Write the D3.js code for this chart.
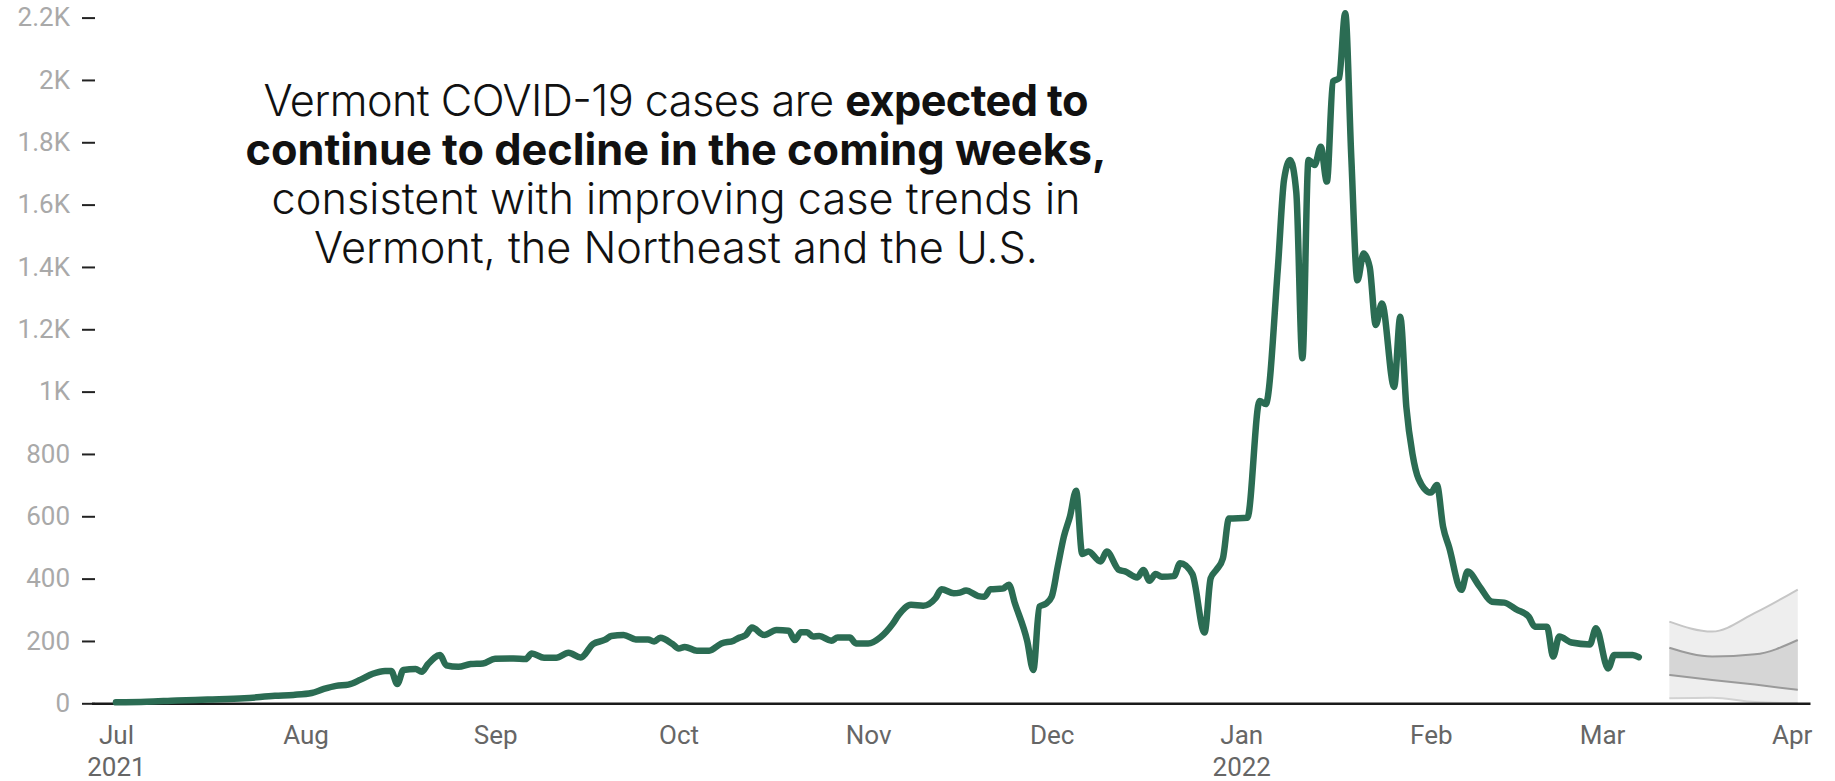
<!DOCTYPE html>
<html>
<head>
<meta charset="utf-8">
<script src="https://cdn.jsdelivr.net/npm/d3@7"></script>
<style>
  html, body { margin: 0; padding: 0; background: #ffffff; }
  svg { display: block; }
</style>
</head>
<body>
<svg id="chart" width="1835" height="781"></svg>
<script>
// ---------------- DATA ----------------
const caseDates = [
  "2021-07-01","2021-07-06","2021-07-11","2021-07-16","2021-07-22","2021-07-27","2021-07-30",
  "2021-08-02","2021-08-04","2021-08-06","2021-08-08","2021-08-10","2021-08-12","2021-08-14","2021-08-15",
  "2021-08-16","2021-08-17","2021-08-19","2021-08-20","2021-08-21","2021-08-23","2021-08-24","2021-08-26",
  "2021-08-28","2021-08-30",
  "2021-09-01","2021-09-04","2021-09-06","2021-09-07","2021-09-09","2021-09-11","2021-09-13","2021-09-15",
  "2021-09-17","2021-09-19","2021-09-20","2021-09-22","2021-09-24","2021-09-26","2021-09-27","2021-09-28",
  "2021-09-30",
  "2021-10-01","2021-10-02","2021-10-04","2021-10-06","2021-10-08","2021-10-10","2021-10-11","2021-10-12",
  "2021-10-13","2021-10-15","2021-10-17","2021-10-19","2021-10-20","2021-10-21","2021-10-22","2021-10-23",
  "2021-10-24","2021-10-26","2021-10-27","2021-10-29","2021-10-30",
  "2021-11-01","2021-11-03","2021-11-05","2021-11-06","2021-11-08","2021-11-10","2021-11-12","2021-11-13",
  "2021-11-15","2021-11-16","2021-11-17","2021-11-19","2021-11-20","2021-11-21","2021-11-23","2021-11-24",
  "2021-11-25","2021-11-27","2021-11-28","2021-11-29","2021-11-30",
  "2021-12-01","2021-12-02","2021-12-03","2021-12-04","2021-12-05","2021-12-06","2021-12-07","2021-12-09",
  "2021-12-10","2021-12-12","2021-12-13","2021-12-15","2021-12-16","2021-12-17","2021-12-18","2021-12-19",
  "2021-12-21","2021-12-22","2021-12-24","2021-12-26","2021-12-27","2021-12-28","2021-12-29","2021-12-30",
  "2022-01-02","2022-01-04","2022-01-05","2022-01-07","2022-01-08","2022-01-09","2022-01-10","2022-01-11",
  "2022-01-12","2022-01-13","2022-01-14","2022-01-15","2022-01-16","2022-01-17","2022-01-18","2022-01-19",
  "2022-01-20","2022-01-21","2022-01-22","2022-01-23","2022-01-24","2022-01-26","2022-01-27","2022-01-28",
  "2022-01-29","2022-01-30",
  "2022-02-01","2022-02-02","2022-02-03","2022-02-04","2022-02-06","2022-02-07","2022-02-09","2022-02-11",
  "2022-02-13","2022-02-15","2022-02-17","2022-02-18","2022-02-20","2022-02-21","2022-02-22","2022-02-24",
  "2022-02-27","2022-02-28",
  "2022-03-02","2022-03-03","2022-03-06","2022-03-07"
];
const caseValues = [
  3, 5, 9, 12, 16, 24, 27,
  33, 46, 56, 60, 76, 95, 104, 104,
  62, 107, 110, 101, 125, 155, 122, 117,
  126, 128,
  143, 144, 142, 160, 146, 146, 162, 147,
  190, 204, 216, 219, 205, 205, 198, 210,
  190,
  176, 181, 169, 169, 192, 201, 211, 219,
  243, 219, 235, 233, 203, 228, 228, 214,
  216, 201, 211, 211, 192,
  192, 212, 255, 284, 316, 313, 337, 366,
  353, 355, 362, 344, 342, 366, 368, 380,
  320, 200, 107, 310, 319,
  342, 439, 535, 600, 682, 479, 487, 455,
  487, 428, 423, 404, 428, 393, 415, 406,
  408, 449, 415, 227, 401, 430, 465, 593,
  595, 970, 960, 1400, 1680, 1743, 1640, 1107,
  1743, 1727, 1786, 1674, 1995, 2006, 2214, 1750,
  1357, 1443, 1400, 1214, 1283, 1015, 1240, 950,
  800, 720,
  676, 700, 567, 500, 364, 423, 374, 326,
  323, 301, 278, 246, 246, 150, 214, 195,
  189, 241,
  112, 155, 155, 148
];

const forecastDates      = ["2022-03-12","2022-03-19","2022-03-26","2022-04-02"];
const forecastOuterHigh  = [262, 230, 290, 365];
const forecastInnerHigh  = [178, 150, 157, 203];
const forecastInnerLow   = [91, 75, 60, 43];
const forecastOuterLow   = [16, 18, 4, 0];

const yTickValues = [0, 200, 400, 600, 800, 1000, 1200, 1400, 1600, 1800, 2000, 2200];
const yTickLabels = ["0", "200", "400", "600", "800", "1K", "1.2K", "1.4K", "1.6K", "1.8K", "2K", "2.2K"];

const monthTickDates  = ["2021-07-01","2021-08-01","2021-09-01","2021-10-01","2021-11-01","2021-12-01",
                         "2022-01-01","2022-02-01","2022-03-01","2022-04-01"];
const monthTickLabels = ["Jul","Aug","Sep","Oct","Nov","Dec","Jan","Feb","Mar","Apr"];
const yearTickLabels  = ["2021","","","","","","2022","","",""];

const xDomain = ["2021-06-27", "2022-04-04"];

const annotationLines = [
  [{t: "Vermont COVID-19 cases are ", b: false}, {t: "expected to", b: true}],
  [{t: "continue to decline in the coming weeks,", b: true}],
  [{t: "consistent with improving case trends in", b: false}],
  [{t: "Vermont, the Northeast and the U.S.", b: false}]
];
const annotationWidths = [825, 861, 809, 724];

// ---------------- CHART ----------------
const parse = d3.timeParse("%Y-%m-%d");
const svg = d3.select("#chart");

const x = d3.scaleTime()
  .domain(xDomain.map(parse))
  .range([91.5, 1810]);

const y = d3.scaleLinear()
  .domain([0, 2200])
  .range([703.3, 17.6]);

const series = caseDates.map((d, i) => ({date: parse(d), value: caseValues[i]}));
const fc = forecastDates.map((d, i) => ({
  date: parse(d),
  oh: forecastOuterHigh[i], ih: forecastInnerHigh[i],
  il: forecastInnerLow[i], ol: forecastOuterLow[i]
}));

// forecast bands
const curve = d3.curveMonotoneX;
const gF = svg.append("g");
gF.append("path")
  .attr("d", d3.area().curve(curve).x(d => x(d.date)).y0(d => y(d.ol)).y1(d => y(d.oh))(fc))
  .attr("fill", "#eeeeee");
gF.append("path")
  .attr("d", d3.area().curve(curve).x(d => x(d.date)).y0(d => y(d.il)).y1(d => y(d.ih))(fc))
  .attr("fill", "#d6d6d6");
[["oh", "#c6c6c6"], ["ol", "#d2d2d2"], ["ih", "#9a9a9a"], ["il", "#9a9a9a"]].forEach(([k, c]) => {
  gF.append("path")
    .attr("d", d3.line().curve(curve).x(d => x(d.date)).y(d => y(d[k]))(fc))
    .attr("fill", "none")
    .attr("stroke", c)
    .attr("stroke-width", 2);
});

// y axis
const yAxis = d3.axisLeft(y)
  .tickValues(yTickValues)
  .tickFormat((d, i) => yTickLabels[i])
  .tickSize(13)
  .tickPadding(12);
const gY = svg.append("g").attr("transform", "translate(95,0)").call(yAxis);
gY.select(".domain").remove();
gY.selectAll(".tick line").attr("stroke", "#222").attr("stroke-width", 2);
gY.selectAll(".tick text")
  .attr("fill", "#a9a9a9")
  .style("font-family", "Roboto, 'Noto Sans', sans-serif")
  .style("font-size", "26px");

// x axis
const xAxis = d3.axisBottom(x)
  .tickValues(monthTickDates.map(parse))
  .tickFormat((d, i) => monthTickLabels[i])
  .tickSize(0)
  .tickSizeOuter(0)
  .tickPadding(22);
const gX = svg.append("g").attr("transform", `translate(0,${y(0)})`).call(xAxis);
gX.select(".domain").attr("stroke", "#1a1a1a").attr("stroke-width", 2.5);
gX.selectAll(".tick text")
  .attr("fill", "#666666")
  .style("font-family", "Roboto, 'Noto Sans', sans-serif")
  .style("font-size", "26px")
  .each(function(d, i) {
    if (yearTickLabels[i]) {
      d3.select(this).append("tspan")
        .attr("x", 0)
        .attr("dy", "1.25em")
        .text(yearTickLabels[i]);
    }
  });

// main line
svg.append("path")
  .datum(series)
  .attr("d", d3.line().curve(d3.curveMonotoneX).x(d => x(d.date)).y(d => y(d.value)))
  .attr("fill", "none")
  .attr("stroke", "#2b6c53")
  .attr("stroke-width", 6.5)
  .attr("stroke-linejoin", "round")
  .attr("stroke-linecap", "round");

// annotation
const ann = svg.append("g")
  .style("font-family", "Inter, 'Open Sans', sans-serif")
  .attr("fill", "#111111");
const baselines = [116, 165, 214, 263];
const texts = annotationLines.map((parts, li) => {
  const t = ann.append("text")
    .attr("x", 676)
    .attr("y", baselines[li])
    .attr("text-anchor", "middle")
    .style("font-size", "37px");
  parts.forEach(p => {
    t.append("tspan")
      .attr("font-weight", p.b ? 700 : 300)
      .text(p.t);
  });
  return t;
});
// fit font size so the bold line spans the same width as in the reference
const w = texts[1].node().getComputedTextLength();
const fs = 37 * 861 / w;
texts.forEach((t, i) => {
  t.style("font-size", fs + "px");
  t.attr("textLength", annotationWidths[i]).attr("lengthAdjust", "spacing");
});
</script>
</body>
</html>
